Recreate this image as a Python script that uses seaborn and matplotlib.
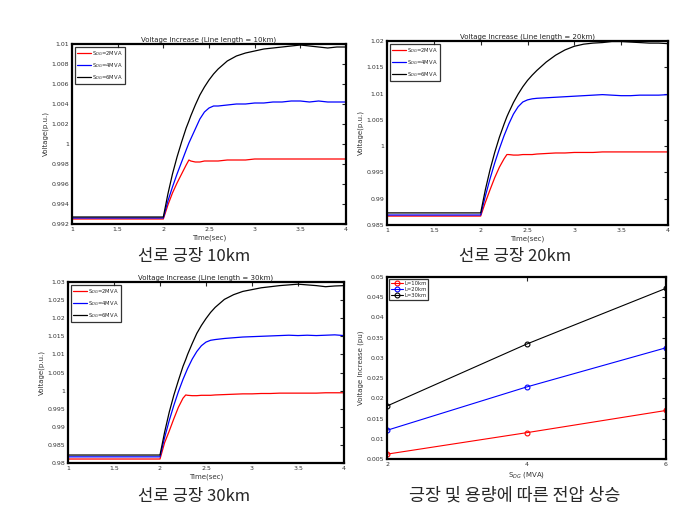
import numpy as np
import pandas as pd
import matplotlib
matplotlib.use("Agg")
import matplotlib.pyplot as plt
import seaborn as sns
from matplotlib.ticker import FuncFormatter

# time axis (sec) shared by the three simulation panels
t = [1.0, 2.0, 2.05, 2.1, 2.15, 2.2, 2.25, 2.28, 2.3, 2.35, 2.4, 2.45, 2.5, 2.55, 2.6,
     2.7, 2.8, 2.9, 3.0, 3.1, 3.2, 3.3, 3.4, 3.5, 3.6, 3.7, 3.8, 3.9, 4.0]

# line length 10km
v10_2 = [0.9925, 0.9925, 0.9939, 0.9951, 0.9961, 0.9970, 0.9979, 0.9984, 0.9983, 0.9982,
         0.9982, 0.9983, 0.9983, 0.9983, 0.9983, 0.9984, 0.9984, 0.9984, 0.9985, 0.9985,
         0.9985, 0.9985, 0.9985, 0.9985, 0.9985, 0.9985, 0.9985, 0.9985, 0.9985]
v10_4 = [0.9926, 0.9926, 0.9943, 0.9957, 0.9970, 0.9982, 0.9994, 1.0001, 1.0005, 1.0015,
         1.0025, 1.0032, 1.0036, 1.0038, 1.0038, 1.0039, 1.0040, 1.0040, 1.0041, 1.0041,
         1.0042, 1.0042, 1.0043, 1.0043, 1.0042, 1.0043, 1.0042, 1.0042, 1.0042]
v10_6 = [0.9927, 0.9927, 0.9950, 0.9970, 0.9987, 1.0002, 1.0016, 1.0023, 1.0028, 1.0039,
         1.0049, 1.0057, 1.0064, 1.0070, 1.0075, 1.0083, 1.0088, 1.0091, 1.0093, 1.0095,
         1.0096, 1.0097, 1.0098, 1.0099, 1.0098, 1.0097, 1.0096, 1.0097, 1.0097]

# line length 20km
v20_2 = [0.9867, 0.9867, 0.9893, 0.9917, 0.9940, 0.9960, 0.9976, 0.9984, 0.9984, 0.9983,
         0.9983, 0.9984, 0.9984, 0.9984, 0.9985, 0.9986, 0.9987, 0.9987, 0.9988, 0.9988,
         0.9988, 0.9989, 0.9989, 0.9989, 0.9989, 0.9989, 0.9989, 0.9989, 0.9989]
v20_4 = [0.9869, 0.9869, 0.9905, 0.9938, 0.9968, 0.9995, 1.0020, 1.0033, 1.0042, 1.0061,
         1.0075, 1.0084, 1.0088, 1.0090, 1.0091, 1.0092, 1.0093, 1.0094, 1.0095, 1.0096,
         1.0097, 1.0098, 1.0097, 1.0096, 1.0096, 1.0097, 1.0097, 1.0097, 1.0098]
v20_6 = [0.9873, 0.9873, 0.9917, 0.9955, 0.9988, 1.0017, 1.0042, 1.0056, 1.0064, 1.0083,
         1.0099, 1.0113, 1.0125, 1.0135, 1.0144, 1.0160, 1.0173, 1.0183, 1.0190, 1.0194,
         1.0196, 1.0197, 1.0199, 1.0199, 1.0198, 1.0197, 1.0196, 1.0196, 1.0195]

# line length 30km
v30_2 = [0.9811, 0.9811, 0.9856, 0.9888, 0.9922, 0.9954, 0.9979, 0.9988, 0.9987, 0.9986,
         0.9986, 0.9987, 0.9987, 0.9987, 0.9988, 0.9989, 0.9990, 0.9991, 0.9991, 0.9992,
         0.9992, 0.9993, 0.9993, 0.9993, 0.9993, 0.9993, 0.9994, 0.9994, 0.9994]
v30_4 = [0.9817, 0.9817, 0.9870, 0.9917, 0.9959, 0.9997, 1.0031, 1.0049, 1.0061, 1.0087,
         1.0108, 1.0124, 1.0134, 1.0139, 1.0141, 1.0144, 1.0146, 1.0148, 1.0149, 1.0150,
         1.0151, 1.0152, 1.0153, 1.0152, 1.0153, 1.0152, 1.0153, 1.0154, 1.0152]
v30_6 = [0.9822, 0.9822, 0.9885, 0.9940, 0.9987, 1.0028, 1.0067, 1.0086, 1.0100, 1.0130,
         1.0158, 1.0180, 1.0199, 1.0216, 1.0230, 1.0252, 1.0265, 1.0274, 1.0279, 1.0284,
         1.0287, 1.0290, 1.0292, 1.0294, 1.0292, 1.0290, 1.0287, 1.0289, 1.0290]

# summary panel
s_dg = [2, 4, 6]
inc_10km = [0.0062, 0.0115, 0.0170]
inc_20km = [0.0121, 0.0228, 0.0325]
inc_30km = [0.0181, 0.0334, 0.0472]

mva_labels = ["S$_{DG}$=2MVA", "S$_{DG}$=4MVA", "S$_{DG}$=6MVA"]
len_labels = ["L=10km", "L=20km", "L=30km"]
colors = ["red", "blue", "black"]

sns.set_style("white")
plt.rcParams["font.family"] = ["DejaVu Sans"]

W, H = 700, 509
fig = plt.figure(figsize=(7, 5.09), dpi=100)


def px_axes(left, right, top, bottom):
    return fig.add_axes([left / W, 1 - bottom / H, (right - left) / W, (bottom - top) / H])


fmt = FuncFormatter(lambda v, p: "%g" % round(v, 6))


def style_axes(ax):
    for s in ax.spines.values():
        s.set_linewidth(1.6)
        s.set_color("black")
    ax.tick_params(direction="in", top=True, right=True, length=3, width=0.8,
                   labelsize=4.5, labelcolor="#333333", pad=2)
    ax.xaxis.set_major_formatter(fmt)
    ax.yaxis.set_major_formatter(fmt)


def small_legend(ax, labels, hl):
    leg = ax.legend(ax.lines[:3], labels, loc="upper left", fontsize=3.8,
                    frameon=True, fancybox=False, edgecolor="black", handlelength=hl,
                    handletextpad=0.3, borderpad=0.45, labelspacing=0.55,
                    borderaxespad=0.5)
    leg.get_frame().set_linewidth(0.9)


def sim_panel(ax, series, title, ylim, ystep):
    df = pd.DataFrame({
        "t": t * 3,
        "v": series[0] + series[1] + series[2],
        "case": [mva_labels[0]] * len(t) + [mva_labels[1]] * len(t) + [mva_labels[2]] * len(t),
    })
    sns.lineplot(data=df, x="t", y="v", hue="case", palette=colors, estimator=None,
                 sort=False, linewidth=0.9, ax=ax)
    ax.set_xlim(1, 4)
    ax.set_ylim(*ylim)
    ax.set_xticks(np.arange(1, 4.01, 0.5))
    ax.set_yticks(np.arange(ylim[0], ylim[1] + ystep / 2, ystep))
    ax.set_title(title, fontsize=5, pad=2, color="#222222")
    ax.set_xlabel("Time(sec)", fontsize=5, labelpad=2, color="#333333")
    ax.set_ylabel("Voltage(p.u.)", fontsize=5, labelpad=2, color="#333333")
    style_axes(ax)
    small_legend(ax, mva_labels, 2.6)


ax1 = px_axes(72, 346, 44, 224)
sim_panel(ax1, [v10_2, v10_4, v10_6], "Voltage Increase (Line length = 10km)",
          (0.992, 1.01), 0.002)

ax2 = px_axes(387, 668, 41, 225)
sim_panel(ax2, [v20_2, v20_4, v20_6], "Voltage Increase (Line length = 20km)",
          (0.985, 1.02), 0.005)

ax3 = px_axes(68, 344, 282, 463)
sim_panel(ax3, [v30_2, v30_4, v30_6], "Voltage Increase (Line length = 30km)",
          (0.98, 1.03), 0.005)

ax4 = px_axes(387, 666, 277, 459)
df4 = pd.DataFrame({
    "s": s_dg * 3,
    "inc": inc_10km + inc_20km + inc_30km,
    "L": [len_labels[0]] * 3 + [len_labels[1]] * 3 + [len_labels[2]] * 3,
})
sns.lineplot(data=df4, x="s", y="inc", hue="L", palette=colors, estimator=None,
             linewidth=0.8, marker="o", markersize=3.5, markerfacecolor="none",
             markeredgewidth=0.8, ax=ax4)
for ln, c in zip(ax4.lines[:3], colors):
    ln.set_markeredgecolor(c)
ax4.set_xlim(2, 6)
ax4.set_ylim(0.005, 0.05)
ax4.set_xticks([2, 4, 6])
ax4.set_yticks(np.arange(0.005, 0.0501, 0.005))
ax4.set_xlabel("S$_{DG}$ (MVA)", fontsize=5, labelpad=2, color="#333333")
ax4.set_ylabel("Voltage Increase (pu)", fontsize=5, labelpad=2, color="#333333")
style_axes(ax4)
leg4 = ax4.legend(ax4.lines[:3], len_labels, loc="upper left", fontsize=3.8,
                  frameon=True, fancybox=False, edgecolor="black", handlelength=2.2,
                  handletextpad=0.3, borderpad=0.35, labelspacing=0.2, borderaxespad=0.4)
leg4.get_frame().set_linewidth(0.9)

# Korean captions under each panel
cap_font = ["Noto Sans CJK KR", "DejaVu Sans"]
fig.text(194 / W, 1 - 257 / H, "선로 긍장 10km", ha="center", va="center",
         fontsize=12, family=cap_font)
fig.text(515 / W, 1 - 257 / H, "선로 긍장 20km", ha="center", va="center",
         fontsize=12, family=cap_font)
fig.text(194 / W, 1 - 496 / H, "선로 긍장 30km", ha="center", va="center",
         fontsize=12, family=cap_font)
fig.text(515 / W, 1 - 496 / H, "긍장 및 용량에 따른 전압 상승", ha="center", va="center",
         fontsize=12.5, family=cap_font)

fig.savefig("out.png", dpi=100, facecolor="white")
